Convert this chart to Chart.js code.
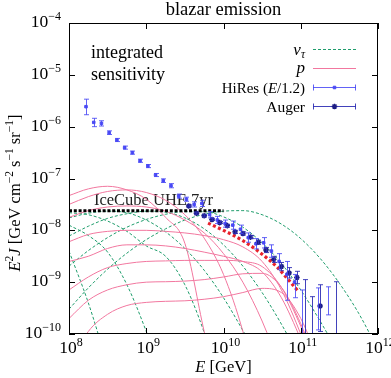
<!DOCTYPE html>
<html>
<head>
<meta charset="utf-8">
<script src="https://cdn.jsdelivr.net/npm/chart.js@4.4.0/dist/chart.umd.min.js"></script>
<style>
  html, body { margin: 0; padding: 0; background: #fff; }
  canvas { display: block; }
</style>
</head>
<body>
<canvas id="chart" width="391" height="378"></canvas>
<script>
// energy grid shared by the model curves (GeV)
const energyGrid = [1e8, 1.78e8, 3.16e8, 5.62e8, 1e9, 1.78e9, 3.16e9, 5.62e9, 1e10,
                    1.78e10, 3.16e10, 5.62e10, 1e11, 1.78e11, 3.16e11, 5.62e11, 1e12];

// nu_tau curves, E^2 J
const nuTau1 = [3.98e-9, 3.98e-10, 2.51e-11];
const nuTau2 = [1.26e-8, 7.94e-9, 3.8e-9, 8.91e-10, 1.12e-10, 1e-11];
const nuTau3 = [2.19e-8, 2.0e-8, 1.51e-8, 9.55e-9, 5.01e-9, 3.16e-9, 8.91e-10, 1.07e-10, 6.31e-12];
const nuTau4 = [1.74e-8, 2.14e-8, 2.34e-8, 2.19e-8, 1.58e-8, 9.33e-9, 4.47e-9, 1.7e-9, 5.01e-10, 1.17e-10, 2.51e-11];
const nuTau5 = [7.76e-9, 1.2e-8, 1.7e-8, 2.09e-8, 2.34e-8, 2.24e-8, 1.74e-8, 1.07e-8, 5.25e-9, 2.04e-9, 6.31e-10, 1.55e-10, 3.16e-11];
const nuTau6 = [2.04e-9, 4.07e-9, 7.24e-9, 1.15e-8, 1.62e-8, 2.04e-8, 2.29e-8, 2.29e-8, 1.82e-8, 1.15e-8, 5.75e-9, 2.29e-9, 7.08e-10, 1.78e-10, 3.98e-11];
const nuTau7 = [3.02e-10, 7.76e-10, 1.78e-9, 3.63e-9, 6.61e-9, 1.07e-8, 1.58e-8, 2.04e-8, 2.34e-8, 2.4e-8, 2.0e-8, 1.32e-8, 6.92e-9, 2.88e-9, 9.55e-10, 2.51e-10, 5.01e-11];

// proton curves
const proton1 = [4.68e-8, 6.31e-8, 7.08e-8, 6.03e-8, 3.98e-8, 1.78e-8, 5.62e-9, 1.12e-10, 3.16e-12];
const proton2 = [3.16e-8, 4.47e-8, 5.62e-8, 6.03e-8, 5.37e-8, 3.8e-8, 2.0e-8, 7.08e-9, 1.41e-9, 1.12e-10, 3.16e-12];
const proton3 = [1.78e-8, 2.4e-8, 2.82e-8, 2.95e-8, 2.82e-8, 2.34e-8, 1.58e-8, 8.91e-9, 3.55e-9, 1e-9, 1.78e-10, 2.0e-11];
const proton4 = [6.03e-9, 8.32e-9, 9.55e-9, 1e-8, 1e-8, 9.55e-9, 8.91e-9, 7.94e-9, 6.61e-9, 4.79e-9, 2.51e-9, 7.08e-10, 1e-10, 1e-11];
const proton5 = [2.51e-9, 3.16e-9, 4.47e-9, 5.25e-9, 5.25e-9, 5.01e-9, 4.47e-9, 3.8e-9, 3.16e-9, 2.51e-9, 1.58e-9, 5.01e-10, 7.94e-11, 1e-11];
const proton6 = [7.08e-10, 1.26e-9, 1.91e-9, 2.29e-9, 2.51e-9, 2.57e-9, 2.63e-9, 2.63e-9, 2.63e-9, 2.51e-9, 2.0e-9, 7.94e-10, 1.41e-10, 1.58e-11];
const proton7 = [1.99e-10, 4.47e-10, 7.08e-10, 8.91e-10, 1e-9, 1.02e-9, 1.05e-9, 1.12e-9, 1.26e-9, 1.45e-9, 1.48e-9, 7.94e-10, 1.58e-10, 1.58e-11];
const proton8 = [2.51e-11, 1.12e-10, 2.4e-10, 3.55e-10, 4.07e-10, 4.27e-10, 4.37e-10, 4.68e-10, 5.25e-10, 6.31e-10, 7.59e-10, 6.31e-10, 2.0e-10, 2.51e-11];

// combined fit (red dotted)
const fitE = [6.31e9, 1e10, 1.78e10, 3.16e10, 5.01e10, 7.08e10, 9.33e10];
const fitJ = [1.38e-8, 1.0e-8, 6.31e-9, 3.47e-9, 1.91e-9, 1.07e-9, 6.61e-10];

// IceCube UHE 7yr integrated sensitivity
const icecubeE = [1e8, 1e10];
const icecubeJ = [2.4e-8, 2.4e-8];

// HiRes (E/1.2)
const hiresE  = [1.66e8, 2.09e8, 2.63e8, 3.31e8, 4.17e8, 5.25e8, 6.61e8, 8.32e8, 1.05e9, 1.32e9,
                 1.66e9, 2.09e9, 2.63e9, 3.31e9, 4.17e9, 5.25e9, 6.61e9, 8.32e9, 1.05e10, 1.32e10,
                 1.66e10, 2.09e10, 2.63e10, 3.31e10, 4.17e10, 5.25e10, 6.61e10, 8.32e10, 1.05e11, 1.66e11, 2.24e11];
const hiresJ  = [2.43e-6, 1.21e-6, 1.16e-6, 7.66e-7, 5.53e-7, 3.94e-7, 3.15e-7, 2.2e-7, 1.74e-7, 1.17e-7,
                 9.08e-8, 7.26e-8, 4.57e-8, 3.98e-8, 3.16e-8, 3.31e-8, 2.0e-8, 1.58e-8, 1.35e-8, 1.26e-8,
                 1.05e-8, 7.24e-9, 5.5e-9, 5.75e-9, 3.98e-9, 2.51e-9, 1.41e-9, 1e-9, null, null, null];
const hiresHi = [3.39e-6, 1.45e-6, 1.3e-6, 8.3e-7, 5.93e-7, 4.22e-7, 3.38e-7, 2.36e-7, 1.86e-7, 1.25e-7,
                 9.84e-8, 7.96e-8, 5.01e-8, 4.36e-8, 3.55e-8, 3.8e-8, 2.3e-8, 1.86e-8, 1.58e-8, 1.51e-8,
                 1.26e-8, 8.91e-9, 6.92e-9, 7.24e-9, 5.25e-9, 3.55e-9, 2.51e-9, 1.41e-9, 7.08e-10, 7.76e-10, 8.13e-10];
const hiresLo = [1.7e-6, 1.0e-6, 1.03e-6, 7.07e-7, 5.16e-7, 3.68e-7, 2.94e-7, 2.05e-7, 1.62e-7, 1.09e-7,
                 8.38e-8, 6.62e-8, 4.17e-8, 3.63e-8, 2.82e-8, 2.88e-8, 1.74e-8, 1.35e-8, 1.15e-8, 1.05e-8,
                 8.71e-9, 5.89e-9, 4.37e-9, 4.57e-9, 3.02e-9, 1.78e-9, 4.47e-10, 5.01e-10, 6.31e-11, 1.2e-10, 2.34e-10];

// Auger
const augerE  = [3.55e9, 4.47e9, 5.62e9, 7.08e9, 8.91e9, 1.12e10, 1.41e10, 1.78e10, 2.24e10, 2.82e10,
                 3.55e10, 4.47e10, 5.62e10, 7.08e10, 8.91e10, 1.12e11, 1.41e11, 1.78e11, 2.82e11];
const augerJ  = [2.95e-8, 2.14e-8, 1.91e-8, 1.62e-8, 1.41e-8, 1.23e-8, 9.33e-9, 8.71e-9, 7.41e-9, 5.89e-9,
                 4.17e-9, 2.75e-9, 2.0e-9, 1.51e-9, 1.23e-9, null, null, 3.47e-10, null];
const augerHi = [3.09e-8, 2.24e-8, 2.0e-8, 1.7e-8, 1.48e-8, 1.3e-8, 1.0e-8, 9.33e-9, 7.94e-9, 6.46e-9,
                 4.68e-9, 3.16e-9, 2.4e-9, 1.91e-9, 1.62e-9, 1.12e-9, 5.25e-10, 8.91e-10, 1.02e-9];
const augerLo = [2.82e-8, 2.04e-8, 1.82e-8, 1.55e-8, 1.35e-8, 1.16e-8, 8.71e-9, 8.13e-9, 6.92e-9, 5.37e-9,
                 3.72e-9, 2.4e-9, 1.66e-9, 1.2e-9, 9.33e-10, 3.16e-11, 3.16e-11, 1.12e-10, 3.16e-11];

// axis decades
const xTickExp = [8, 9, 10, 11, 12];
const yTickExp = [-4, -5, -6, -7, -8, -9, -10];

const SERIF = '"Liberation Serif", "DejaVu Serif", serif';
const GREEN = '#1f9d6c';
const PINK = '#f2779f';
const HIRES = '#4b4bf5';
const AUGER = '#1c1c84';
const HIRES_BAR = 'rgba(70,70,245,0.85)';
const AUGER_BAR = 'rgba(45,45,180,0.9)';

function pts(xs, ys) {
  return ys.map((v, i) => ({ x: xs[i], y: v }));
}
function curve(ys, color, dashed) {
  return {
    data: pts(energyGrid, ys), showLine: true, pointRadius: 0,
    borderColor: color, borderWidth: 1, borderDash: dashed ? [3, 2] : [],
    cubicInterpolationMode: 'monotone', order: dashed ? 5 : 4
  };
}

// draw a run of text pieces (font / vertical shift) at x,y
function textRun(ctx, parts, x, y, align) {
  let w = 0;
  parts.forEach(p => { ctx.font = p.f; p.w = ctx.measureText(p.t).width; w += p.w; });
  let cx = align === 'right' ? x - w : align === 'center' ? x - w / 2 : x;
  ctx.textAlign = 'left';
  ctx.textBaseline = 'alphabetic';
  parts.forEach(p => { ctx.font = p.f; ctx.fillText(p.t, cx, y + (p.dy || 0)); cx += p.w; });
}
const rm = s => s + 'px ' + SERIF;
const it = s => 'italic ' + s + 'px ' + SERIF;

const decor = {
  id: 'decor',
  beforeDatasetsDraw(chart) {
    const { ctx, scales: { x, y } } = chart;
    ctx.save();
    ctx.fillStyle = '#222';
    textRun(ctx, [{ t: 'IceCube UHE 7yr', f: rm(16.5) }], x.getPixelForValue(2.1e8), y.getPixelForValue(icecubeJ[0]) - 6, 'left');
    ctx.restore();
  },
  afterDatasetsDraw(chart) {
    const { ctx, chartArea: a, scales: { x, y } } = chart;
    ctx.save();
    ctx.beginPath();
    ctx.rect(a.left, a.top, a.right - a.left, a.bottom - a.top);
    ctx.clip();
    const bars = (xs, lo, hi, color) => {
      ctx.strokeStyle = color;
      ctx.lineWidth = 1;
      xs.forEach((e, i) => {
        const px = Math.round(x.getPixelForValue(e)) + 0.5;
        const y1 = y.getPixelForValue(lo[i]);
        const y2 = y.getPixelForValue(hi[i]);
        ctx.beginPath();
        ctx.moveTo(px, y1); ctx.lineTo(px, y2);
        ctx.moveTo(px - 2.5, y1); ctx.lineTo(px + 2.5, y1);
        ctx.moveTo(px - 2.5, y2); ctx.lineTo(px + 2.5, y2);
        ctx.stroke();
      });
    };
    bars(hiresE, hiresLo, hiresHi, HIRES_BAR);
    bars(augerE, augerLo, augerHi, AUGER_BAR);
    ctx.restore();
  },
  afterDraw(chart) {
    const { ctx, chartArea: a, scales: { x, y } } = chart;
    ctx.save();
    // frame and ticks
    ctx.strokeStyle = '#000';
    ctx.lineWidth = 1;
    ctx.strokeRect(a.left + 0.5, a.top + 0.5, a.right - a.left - 1, a.bottom - a.top - 1);
    ctx.beginPath();
    xTickExp.forEach(e => {
      const px = Math.round(x.getPixelForValue(Math.pow(10, e))) + 0.5;
      ctx.moveTo(px, a.bottom); ctx.lineTo(px, a.bottom - 6);
      ctx.moveTo(px, a.top); ctx.lineTo(px, a.top + 6);
    });
    yTickExp.forEach(e => {
      const py = Math.round(y.getPixelForValue(Math.pow(10, e))) + 0.5;
      ctx.moveTo(a.left, py); ctx.lineTo(a.left + 6, py);
      ctx.moveTo(a.right, py); ctx.lineTo(a.right - 6, py);
    });
    ctx.stroke();

    // tick labels
    ctx.fillStyle = '#000';
    xTickExp.forEach(e => {
      const px = x.getPixelForValue(Math.pow(10, e));
      textRun(ctx, [{ t: '10', f: rm(17.5) }, { t: String(e), f: rm(12), dy: -7 }], px + 2, a.bottom + 19, 'center');
    });
    yTickExp.forEach(e => {
      const py = y.getPixelForValue(Math.pow(10, e));
      textRun(ctx, [{ t: '10', f: rm(17.5) }, { t: '\u2212' + Math.abs(e), f: rm(12), dy: -7 }], a.left - 8, py + 4, 'right');
    });

    // title and axis titles
    textRun(ctx, [{ t: 'blazar emission', f: rm(18.5) }], (a.left + a.right) / 2, 15, 'center');
    textRun(ctx, [{ t: 'E', f: it(16.5) }, { t: ' [GeV]', f: rm(16.5) }], (a.left + a.right) / 2, 372, 'center');
    ctx.save();
    ctx.translate(20, 193);
    ctx.rotate(-Math.PI / 2);
    textRun(ctx, [
      { t: 'E', f: it(16.5) }, { t: '2', f: rm(11.5), dy: -7 }, { t: 'J', f: it(16.5) },
      { t: ' [GeV cm', f: rm(16.5) }, { t: '\u22122', f: rm(11.5), dy: -7 },
      { t: ' s', f: rm(16.5) }, { t: '\u22121', f: rm(11.5), dy: -7 },
      { t: ' sr', f: rm(16.5) }, { t: '\u22121', f: rm(11.5), dy: -7 }, { t: ']', f: rm(16.5) }
    ], 0, 0, 'center');
    ctx.restore();

    // annotation
    textRun(ctx, [{ t: 'integrated', f: rm(18) }], 91, 58, 'left');
    textRun(ctx, [{ t: 'sensitivity', f: rm(18) }], 91, 80, 'left');

    // legend
    const lx = 305, s0 = 313, s1 = 356, sm = 334.5;
    const rows = [49.5, 68.5, 87.5, 106.5];
    textRun(ctx, [{ t: '\u03bd', f: it(17) }, { t: '\u03c4', f: it(11.5), dy: 3 }], lx, rows[0] + 5, 'right');
    textRun(ctx, [{ t: 'p', f: it(17) }], lx, rows[1] + 4, 'right');
    textRun(ctx, [{ t: 'HiRes (', f: rm(15) }, { t: 'E', f: it(15) }, { t: '/1.2)', f: rm(15) }], lx, rows[2] + 5, 'right');
    textRun(ctx, [{ t: 'Auger', f: rm(15.5) }], lx, rows[3] + 5, 'right');

    ctx.lineWidth = 1;
    ctx.setLineDash([3, 2]);
    ctx.strokeStyle = GREEN;
    ctx.beginPath(); ctx.moveTo(s0, rows[0]); ctx.lineTo(s1, rows[0]); ctx.stroke();
    ctx.setLineDash([]);
    ctx.strokeStyle = PINK;
    ctx.beginPath(); ctx.moveTo(s0, rows[1]); ctx.lineTo(s1, rows[1]); ctx.stroke();
    [[rows[2], HIRES_BAR], [rows[3], AUGER_BAR]].forEach(([ry, col]) => {
      ctx.strokeStyle = col;
      ctx.beginPath();
      ctx.moveTo(s0, ry); ctx.lineTo(s1, ry);
      ctx.moveTo(s0 + 0.5, ry - 3); ctx.lineTo(s0 + 0.5, ry + 3);
      ctx.moveTo(s1 - 0.5, ry - 3); ctx.lineTo(s1 - 0.5, ry + 3);
      ctx.stroke();
    });
    ctx.fillStyle = HIRES; ctx.strokeStyle = HIRES;
    Chart.helpers.drawPoint(ctx, { pointStyle: 'rect', radius: 1.8, borderWidth: 1, rotation: 0 }, sm, rows[2]);
    ctx.fillStyle = AUGER; ctx.strokeStyle = AUGER; ctx.lineWidth = 1.4;
    Chart.helpers.drawPoint(ctx, { pointStyle: 'star', radius: 2.8, borderWidth: 1.4, rotation: 0 }, sm, rows[3]);
    ctx.restore();
  }
};

const datasets = [
  ...[nuTau1, nuTau2, nuTau3, nuTau4, nuTau5, nuTau6, nuTau7].map(c => curve(c, GREEN, true)),
  ...[proton1, proton2, proton3, proton4, proton5, proton6, proton7, proton8].map(c => curve(c, PINK, false)),
  {
    data: pts(fitE, fitJ), showLine: true, pointRadius: 0, borderColor: '#e8222c',
    borderWidth: 3.2, borderDash: [3, 2.5], cubicInterpolationMode: 'monotone', order: 3
  },
  {
    data: pts(icecubeE, icecubeJ), showLine: true, pointRadius: 0, borderColor: '#000',
    borderWidth: 3, borderDash: [3, 1.8], order: 2
  },
  {
    data: pts(hiresE, hiresJ), showLine: false, pointStyle: 'rect', pointRadius: 1.8,
    backgroundColor: HIRES, borderColor: HIRES, borderWidth: 1, order: 1
  },
  {
    data: pts(augerE, augerJ), showLine: false, pointStyle: 'star', pointRadius: 2.8,
    backgroundColor: AUGER, borderColor: AUGER, borderWidth: 1.4, order: 0
  }
];

new Chart(document.getElementById('chart'), {
  type: 'scatter',
  data: { datasets },
  options: {
    responsive: false,
    animation: false,
    devicePixelRatio: 1,
    layout: { padding: { left: 69, right: 13, top: 23, bottom: 44 } },
    plugins: { legend: { display: false }, tooltip: { enabled: false } },
    scales: {
      x: { type: 'logarithmic', min: 1e8, max: 1e12, display: false },
      y: { type: 'logarithmic', min: 1e-10, max: 1e-4, display: false }
    }
  },
  plugins: [decor]
});
</script>
</body>
</html>
